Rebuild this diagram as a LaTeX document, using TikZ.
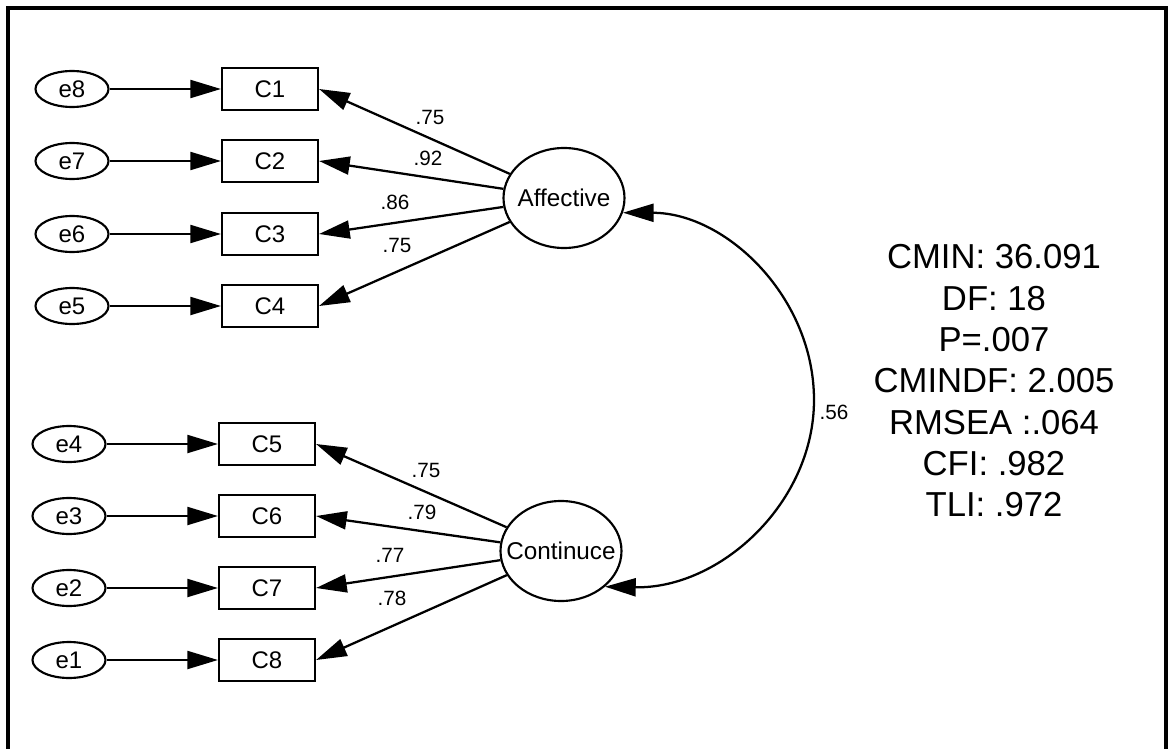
\documentclass[tikz,border=0pt]{standalone}
\usepackage{fontspec}
\setmainfont{Liberation Sans}
\usetikzlibrary{arrows.meta,shapes.geometric}
\begin{document}
\begin{tikzpicture}[x=0.75pt,y=-0.75pt,
  obs/.style={draw,line width=1.6pt,fill=white,rectangle,minimum width=72pt,minimum height=31.5pt,inner sep=0pt,font=\fontsize{18}{20}\selectfont},
  err/.style={draw,line width=1.6pt,fill=white,ellipse,minimum width=54.75pt,minimum height=27pt,inner sep=0pt,font=\fontsize{18}{20}\selectfont},
  latent/.style={draw,line width=1.6pt,fill=white,ellipse,minimum width=90.75pt,minimum height=75pt,inner sep=0pt,font=\fontsize{18.2}{20}\selectfont},
  lbl/.style={inner sep=0pt,font=\fontsize{15.5}{17}\selectfont},
  stats/.style={inner sep=0pt,align=center,font=\fontsize{26}{31}\selectfont},
  arr/.style={line width=1.7pt,-{Triangle[length=23pt,width=13.5pt]}},
  biarr/.style={line width=1.7pt,{Triangle[length=23pt,width=13.5pt]}-{Triangle[length=23pt,width=13.5pt]}},
]
\useasboundingbox (0,0) rectangle (1168,749);
\clip (0,0) rectangle (1168,749);
\fill[white] (0,0) rectangle (1168,749);
\draw[line width=3pt] (8,8) rectangle (1166,820);

% top group
\node[err] (e8) at (72,89) {e8};
\node[err] (e7) at (72,161) {e7};
\node[err] (e6) at (72,234) {e6};
\node[err] (e5) at (72,306) {e5};
\node[obs] (C1) at (270,89) {C1};
\node[obs] (C2) at (270,161) {C2};
\node[obs] (C3) at (270,234) {C3};
\node[obs] (C4) at (270,306) {C4};
% bottom group
\node[err] (e4) at (69,444) {e4};
\node[err] (e3) at (69,516) {e3};
\node[err] (e2) at (69,588) {e2};
\node[err] (e1) at (69,660) {e1};
\node[obs] (C5) at (267,444) {C5};
\node[obs] (C6) at (267,516) {C6};
\node[obs] (C7) at (267,588) {C7};
\node[obs] (C8) at (267,660) {C8};

\node[latent] (Aff) at (564,198) {\makebox[0pt]{Affective}};
\node[latent] (Cont) at (561,551) {\makebox[0pt]{Continuce}};

% error arrows
\foreach \e/\c in {e8/C1,e7/C2,e6/C3,e5/C4,e4/C5,e3/C6,e2/C7,e1/C8}
  \draw[arr] (\e) -- (\c.west);

% loadings
\foreach \c in {C1,C2,C3,C4}
  \draw[arr] (Aff) -- (\c.east);
\foreach \c in {C5,C6,C7,C8}
  \draw[arr] (Cont) -- (\c.east);

\node[lbl] (l1) at (430,117) {.75};
\node[lbl] (l2) at (428,158) {.92};
\node[lbl] (l3) at (395,202) {.86};
\node[lbl] (l4) at (397,245) {.75};
\node[lbl] (l5) at (426,470) {.75};
\node[lbl] (l6) at (422,512) {.79};
\node[lbl] (l7) at (390,555) {.77};
\node[lbl] (l8) at (392,598) {.78};

% covariance
\coordinate (R) at (814,400);
\draw[biarr] (Aff.-14) .. controls (726,213) and (814,297) .. (R) .. controls (814,503) and (720,589) .. (Cont.-39);
\node[lbl] (r56) at (834,412) {.56};

\node[stats] (fit) at (994,381) {CMIN: 36.091\\DF: 18\\P=.007\\CMINDF: 2.005\\RMSEA :.064\\CFI: .982\\TLI: .972};
\end{tikzpicture}
\end{document}
